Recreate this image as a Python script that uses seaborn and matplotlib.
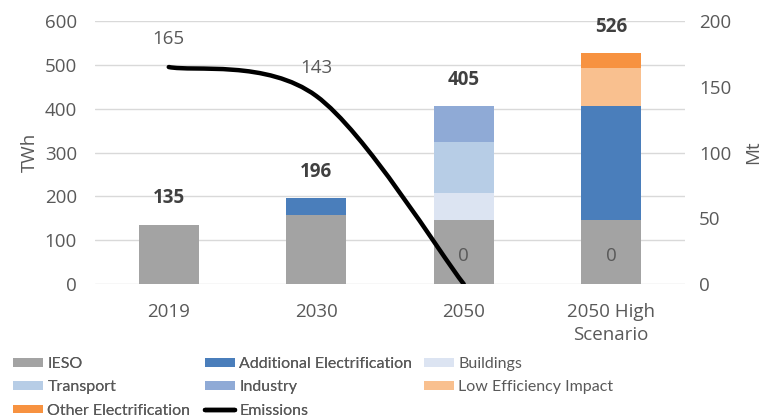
import numpy as np
import pandas as pd
import matplotlib
matplotlib.use("Agg")
import matplotlib.pyplot as plt
import seaborn as sns
from matplotlib.path import Path
from matplotlib.patches import PathPatch, Patch
from matplotlib.lines import Line2D

categories = ["2019", "2030", "2050", "2050 High\nScenario"]
ieso = [135, 157, 146, 146]
additional = [0, 39, 0, 259]
buildings = [0, 0, 61, 0]
transport = [0, 0, 118, 0]
industry = [0, 0, 80, 0]
low_eff = [0, 0, 0, 87]
other = [0, 0, 0, 34]
totals = [135, 196, 405, 526]
emissions = [165, 143, 0, 0]
emissions_line_points = 3  # line drawn through 2019, 2030, 2050

series_names = ["IESO", "Additional Electrification", "Buildings", "Transport",
                "Industry", "Low Efficiency Impact", "Other Electrification"]
series_vals = [ieso, additional, buildings, transport, industry, low_eff, other]
colors = ["#A3A3A3", "#4A7EBB", "#DCE4F2", "#B7CDE6", "#8FAAD6", "#F9C08F", "#F79240"]

sns.set_theme(style="white")
plt.rcParams['font.family'] = ['Open Sans', 'DejaVu Sans']

FS = 13.5
fig = plt.figure(figsize=(7.65, 4.19), dpi=100)
ax = fig.add_axes([95/765, 1-284/419, 590/765, 263/419])

bottom = np.zeros(len(categories))
x = np.arange(len(categories))
for name, vals, col in zip(series_names, series_vals, colors):
    ax.bar(x, vals, width=0.405, bottom=bottom, color=col, linewidth=0, zorder=2)
    bottom += np.array(vals)

ax.set_xlim(-0.5, 3.5)
ax.set_ylim(0, 600)
ax.set_yticks(range(0, 601, 100))
ax.set_xticks(x)
ax.set_xticklabels(categories, fontsize=FS, color="#595959", linespacing=1.35)
ax.tick_params(axis="y", labelsize=FS, colors="#595959", length=0, pad=13)
ax.tick_params(axis="x", length=0, pad=14)
ax.grid(axis="y", color="#D9D9D9", linewidth=1, zorder=0)
ax.set_axisbelow(True)
for s in ax.spines.values():
    s.set_visible(False)
ax.set_ylabel("TWh", fontsize=FS, color="#595959", labelpad=4)

for xi, t in zip(x, totals):
    ax.annotate(str(t), (xi, t), xytext=(0, 19), textcoords="offset points",
                ha="center", va="center", fontsize=FS, fontweight="bold", color="#404040")

ax2 = ax.twinx()
ax2.set_ylim(0, 200)
ax2.set_yticks(range(0, 201, 50))
ax2.tick_params(axis="y", labelsize=FS, colors="#595959", length=0, pad=10)
for s in ax2.spines.values():
    s.set_visible(False)
ax2.set_ylabel("Mt", fontsize=FS, color="#595959", labelpad=9)
ax2.grid(False)

# smoothed emissions line (Catmull-Rom style, like spreadsheet smoothing)
pts = np.column_stack([x[:emissions_line_points], emissions[:emissions_line_points]]).astype(float)
verts = [tuple(pts[0])]
codes = [Path.MOVETO]
n = len(pts)
for i in range(n - 1):
    p0 = pts[i - 1] if i > 0 else pts[i]
    p1 = pts[i]
    p2 = pts[i + 1]
    p3 = pts[i + 2] if i + 2 < n else pts[i + 1]
    c1 = p1 + (p2 - p0) / 6
    c2 = p2 - (p3 - p1) / 6
    verts += [tuple(c1), tuple(c2), tuple(p2)]
    codes += [Path.CURVE4] * 3
ax2.add_patch(PathPatch(Path(verts, codes), facecolor="none", edgecolor="black",
                        linewidth=3.2, capstyle="round", zorder=5))

for xi, e in zip(x, emissions):
    ax2.annotate(str(e), (xi, e), xytext=(0, 20), textcoords="offset points",
                 ha="center", va="center", fontsize=FS, color="#595959")

# legend in three columns
handles = {n: Patch(facecolor=c, edgecolor="none") for n, c in zip(series_names, colors)}
handles["Emissions"] = Line2D([0], [0], color="black", linewidth=3.2)
cols = [["IESO", "Transport", "Other Electrification"],
        ["Additional Electrification", "Industry", "Emissions"],
        ["Buildings", "Low Efficiency Impact"]]
xs = [13, 205, 424]
legs = []
for names, xl in zip(cols, xs):
    leg = fig.legend([handles[n] for n in names], names, loc="upper left",
                     bbox_to_anchor=(xl / 765, 1 - 357 / 419), frameon=False,
                     prop={"family": "Lato", "size": 11.5},
                     handlelength=1.85, handleheight=0.45, handletextpad=0.3,
                     labelspacing=0.58, borderaxespad=0, borderpad=0)
    for t in leg.get_texts():
        t.set_color("#595959")
    legs.append(leg)
for leg in legs[:-1]:
    fig.add_artist(leg)

fig.savefig("out.png", dpi=100)
